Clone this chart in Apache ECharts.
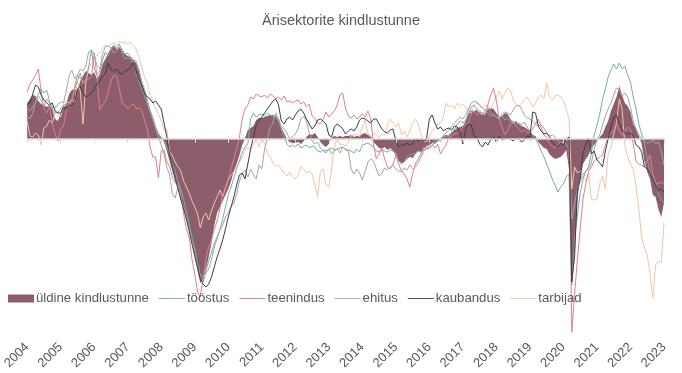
<!DOCTYPE html>
<html>
<head>
<meta charset="utf-8">
<script src="https://cdn.jsdelivr.net/npm/echarts@6/dist/echarts.min.js"></script>
<style>
html,body{margin:0;padding:0;background:#fff;}
#chart{width:682px;height:373px;}
</style>
</head>
<body>
<div id="chart"></div>
<script>
const years = [2004,2005,2006,2007,2008,2009,2010,2011,2012,2013,2014,2015,2016,2017,2018,2019,2020,2021,2022,2023];
const seriesNames = ['üldine kindlustunne','tööstus','teenindus','ehitus','kaubandus','tarbijad'];

const uldine = [
3.6,4.0,4.4,4.3,3.8,3.5,3.4,3.2,3.4,3.0,2.0,1.8,
2.6,3.1,3.5,4.5,4.9,5.0,4.8,5.8,6.3,6.8,6.6,6.4,
6.7,6.0,6.5,7.5,8.0,8.6,9.1,9.3,9.0,9.2,8.8,8.5,
8.3,8.2,7.9,7.6,6.8,5.7,4.8,4.0,3.0,2.2,1.3,0.6,
0.1,-0.3,-1.2,-2.2,-3.2,-4.0,-4.8,-5.8,-6.8,-8.0,-9.0,-10.3,
-11.8,-13.2,-14.4,-14.0,-13.0,-11.8,-10.4,-8.6,-7.4,-6.8,-6.2,-5.6,
-5.0,-4.2,-3.2,-2.5,-1.6,-0.6,0.1,0.9,1.1,1.3,1.9,2.1,
2.1,2.2,2.3,2.4,2.4,2.3,1.8,1.1,0.6,0.0,-0.3,-0.4,
-0.4,-0.3,-0.5,-0.2,0.2,0.5,0.4,0.6,0.2,-0.3,-0.6,-0.8,
-0.5,0.1,0.3,0.2,0.3,0.2,0.3,0.3,0.4,0.2,0.3,0.3,
0.5,0.6,0.4,0.3,-0.3,-0.6,-0.9,-1.0,-0.8,-1.1,-0.9,-1.2,
-1.6,-2.2,-2.4,-2.3,-2.0,-1.8,-1.9,-1.5,-1.2,-1.3,-1.0,-0.7,
-0.6,-0.4,-0.5,-0.2,0.1,0.3,0.4,0.3,0.7,0.9,1.1,1.2,
1.3,1.8,2.5,2.9,2.8,2.9,2.6,2.4,2.6,3.0,3.1,3.0,
2.6,2.2,2.3,2.6,2.5,2.0,1.6,1.8,1.5,1.3,1.2,1.0,
0.8,0.4,0.3,-0.3,-0.6,-0.9,-1.0,-1.5,-1.8,-2.0,-1.9,-1.8,
-1.5,-1.1,-3.0,-14.4,-12.0,-6.0,-3.8,-2.5,-2.0,-1.6,-0.9,-0.6,
-0.2,0.2,0.5,1.2,1.8,2.8,3.5,4.2,5.3,4.4,3.6,3.3,
2.7,1.5,1.0,0.3,-0.5,-2.2,-3.3,-4.0,-5.6,-5.8,-7.0,-7.8,
-6.4
];

const toostus = [
3.0,2.8,3.2,3.6,4.5,5.0,4.6,4.9,3.8,3.0,2.6,2.7,
3.0,3.4,3.5,3.2,3.9,5.0,5.8,6.6,5.5,6.0,7.2,8.9,
7.0,6.4,6.8,7.9,8.7,8.3,9.0,9.4,9.1,9.5,8.7,8.0,
8.1,8.0,7.6,6.5,5.8,5.0,4.3,3.5,2.7,2.0,1.1,0.4,
0.2,-0.2,-0.8,-1.5,-2.5,-3.3,-4.2,-5.0,-6.0,-7.2,-8.5,-9.8,
-11.0,-12.6,-13.8,-14.3,-13.2,-12.2,-11.4,-10.4,-9.8,-9.1,-8.0,-6.8,
-5.6,-4.8,-3.9,-3.0,-2.2,-1.3,-0.8,-0.5,2.0,2.6,2.2,2.4,
2.5,2.3,2.6,2.4,2.2,2.3,2.0,1.0,0.2,-0.5,-0.8,-0.6,
-0.8,-0.5,-0.9,-0.7,-0.6,-0.9,-0.7,-0.8,-1.2,-1.3,-1.1,-1.2,
-1.0,-0.9,-1.1,-1.0,-0.9,-0.8,-1.0,-1.1,-1.2,-1.4,-1.0,-1.3,
-0.6,-0.5,-0.4,-0.6,-0.8,-1.2,-1.3,-1.1,-1.2,-1.3,-1.1,-1.2,
-1.4,-2.2,-2.5,-2.3,-1.8,-1.6,-1.5,-1.4,-1.2,-1.3,-1.1,-1.0,
-0.8,-0.6,-0.4,-0.2,0.0,0.3,0.2,0.4,0.6,1.0,1.5,1.8,
1.6,1.9,2.6,3.2,3.4,3.0,2.8,2.5,2.9,2.6,2.3,2.4,
2.2,2.0,2.3,1.9,2.1,1.7,1.8,1.5,1.6,1.4,1.7,1.2,
0.8,0.4,0.0,-0.5,-1.2,-1.8,-2.5,-3.2,-4.0,-4.6,-5.3,-4.8,
-4.5,-3.8,-3.5,-14.6,-10.0,-7.6,-5.4,-4.0,-3.2,-2.8,-1.4,0.4,
1.4,2.5,4.0,5.0,6.2,6.9,7.5,7.0,7.6,7.0,7.3,6.4,
5.7,4.2,3.0,1.5,0.5,-0.5,-2.0,-3.2,-4.0,-4.3,-5.5,-6.0,
-6.4
];

const teenindus = [
4.7,5.5,5.9,6.4,7.0,4.8,3.0,2.6,3.3,1.5,0.5,-0.2,
1.0,1.3,2.8,3.6,3.8,5.2,6.4,6.1,5.7,5.9,6.0,6.2,
8.6,6.2,2.9,3.4,3.8,4.6,5.8,6.4,6.3,5.0,3.6,3.4,
3.0,3.3,3.5,3.0,3.1,2.9,1.9,1.0,-0.8,-1.8,-1.8,-3.9,
-1.2,-1.1,-2.3,-2.7,-3.8,-4.4,-4.5,-5.5,-7.5,-9.0,-9.8,-12.0,
-13.5,-15.3,-15.8,-14.0,-12.0,-10.8,-10.1,-9.0,-8.2,-7.0,-5.6,-4.8,
-4.0,-3.0,-2.0,-1.0,0.2,2.0,3.0,3.4,4.2,4.0,4.5,4.3,
4.2,4.4,4.1,4.5,4.3,4.0,4.2,3.9,4.3,3.7,3.8,3.6,
3.8,3.9,3.5,3.7,3.2,3.5,2.3,2.1,1.6,1.5,2.0,2.7,
2.2,2.5,2.8,3.4,4.4,4.6,3.0,2.3,2.1,2.4,2.0,2.2,
2.5,2.2,2.8,2.0,-0.5,-2.0,-1.5,-0.9,-2.0,-2.8,-3.0,-2.5,
-1.6,-2.5,-3.2,-3.5,-4.0,-4.8,-3.5,-2.5,-2.0,-1.5,-0.8,-0.9,
-1.0,-0.6,-0.9,-0.5,-1.5,-1.0,-0.6,0.2,0.3,0.5,0.6,0.8,
1.2,1.5,1.6,2.6,2.8,2.4,2.7,2.6,2.4,3.5,4.4,5.1,
3.8,2.0,1.2,0.4,0.8,1.5,1.6,1.3,1.0,0.7,0.9,0.6,
0.7,1.0,1.5,2.0,1.2,0.4,0.2,-0.5,-0.7,-0.9,-0.6,-0.3,
-0.5,-0.2,0.0,-19.3,-15.5,-12.0,-9.0,-6.0,-4.5,-3.2,-2.8,-2.2,
-2.0,-1.8,-1.6,-0.6,0.2,0.6,0.8,1.7,0.8,0.4,0.6,1.2,
1.0,-0.5,-2.2,-2.5,-2.6,-2.8,-2.2,-1.6,-3.5,-4.4,-4.5,-4.3,
-4.5
];

const ehitus = [
2.3,2.0,2.6,3.8,4.3,3.9,3.3,4.0,3.6,3.2,3.1,3.5,
3.7,3.6,4.8,6.3,6.9,6.0,6.4,7.0,6.8,7.3,8.7,8.9,
8.5,7.3,7.0,8.5,9.2,9.3,9.1,8.6,8.8,9.2,9.0,8.5,
8.6,8.2,7.9,7.8,7.0,5.8,5.0,3.8,2.8,2.0,1.0,0.2,
-0.6,-1.5,-2.8,-3.6,-5.5,-5.9,-4.8,-6.0,-6.8,-7.8,-9.0,-10.2,
-11.2,-12.5,-13.6,-13.8,-13.4,-13.0,-12.0,-10.8,-10.0,-9.1,-8.6,-7.8,
-7.4,-6.8,-6.4,-5.5,-4.2,-3.5,-3.1,-3.8,-3.0,-3.6,-4.0,-2.6,
-3.0,-1.0,0.0,1.2,1.6,2.6,2.0,1.2,1.0,0.6,0.0,0.2,
0.5,1.0,2.0,2.3,1.8,0.6,-0.2,-0.5,-0.3,-0.9,-1.2,-1.4,
-1.0,-1.5,-1.2,-1.0,-1.4,-0.8,-1.1,-1.2,-3.0,-3.5,-3.0,-3.4,
-4.1,-3.2,-2.3,-2.0,-2.2,-3.0,-3.7,-3.4,-2.9,-3.1,-2.8,-2.6,
-3.0,-3.2,-3.3,-2.9,-3.1,-2.6,-3.0,-2.8,-2.4,-1.8,-1.2,-0.8,
-0.6,-0.4,-0.2,0.0,-0.3,0.3,0.6,0.9,1.3,1.6,1.9,2.2,
2.0,2.4,3.0,3.6,3.8,3.7,3.3,3.1,2.9,3.1,2.6,2.4,
2.2,2.1,2.5,2.7,2.6,2.4,2.9,3.3,3.4,3.0,2.4,2.1,
2.0,1.8,1.5,1.3,1.4,1.1,0.6,0.3,0.4,0.2,-0.2,-0.4,
-0.3,-0.5,-1.0,-8.0,-6.5,-5.0,-4.2,-3.5,-3.2,-3.0,-2.4,-1.0,
0.0,0.4,1.4,2.3,3.0,3.6,4.4,5.1,4.9,4.3,4.6,4.2,
3.2,1.8,1.0,0.4,0.0,-0.2,-0.4,-0.3,-0.1,-0.5,-0.3,-1.2,
-2.6
];

const kaubandus = [
3.4,3.6,4.5,5.4,5.2,4.4,3.9,3.6,3.4,3.6,2.8,2.6,
2.6,3.2,3.0,3.4,3.3,3.7,5.0,5.3,4.6,4.2,4.4,4.6,
5.0,5.5,5.8,6.3,6.5,7.6,7.0,6.8,7.0,6.6,6.5,6.8,
6.9,7.2,7.6,6.8,6.0,5.4,4.6,4.2,4.0,3.6,3.8,3.4,
3.0,1.6,0.2,-1.5,-2.8,-4.0,-5.0,-6.0,-7.0,-8.0,-9.2,-10.5,
-11.7,-12.8,-14.0,-14.5,-14.8,-14.5,-13.8,-12.8,-11.8,-11.0,-10.1,-9.0,
-7.8,-6.8,-5.8,-4.6,-3.6,-3.4,-4.0,-2.5,-1.0,0.2,1.4,1.8,
2.2,2.6,3.0,3.4,3.8,4.0,3.4,1.8,1.5,2.0,2.2,1.9,
2.4,2.8,3.0,2.6,2.0,1.5,1.0,1.3,1.9,2.0,1.8,1.5,
0.4,0.2,1.2,1.5,1.3,1.0,0.5,0.8,1.0,0.8,1.2,1.9,
2.1,2.0,1.8,1.6,2.0,2.0,1.5,1.0,0.7,0.6,0.9,1.0,
-0.2,-0.8,-0.6,-0.6,-0.4,-0.6,-0.5,0.0,-0.2,0.0,-0.2,0.1,
2.0,2.4,1.6,1.0,1.2,0.8,1.0,1.1,0.9,1.3,1.2,0.6,
-0.5,1.0,1.5,1.4,0.3,0.2,-0.5,-0.8,-0.3,-0.6,0.0,0.2,
-0.3,0.3,-0.1,0.0,0.1,0.0,-0.2,0.1,0.0,-0.3,-0.1,0.3,
0.2,2.7,2.6,1.3,0.8,0.5,0.6,0.2,-0.3,-0.6,-0.8,-0.4,
-0.6,0.0,0.2,-14.3,-11.6,-5.2,-4.0,-1.4,-0.6,0.1,-1.5,-1.2,
-2.1,-2.4,-2.8,-1.2,0.0,1.2,2.2,2.4,1.5,1.0,0.6,0.5,
0.6,0.3,-0.6,-0.8,-1.3,-2.8,-3.0,-3.4,-4.0,-4.6,-5.2,-5.0,
-5.3
];

const tarbijad = [
1.8,0.3,0.2,0.6,0.4,-0.6,1.1,1.3,1.9,1.6,2.6,2.3,
2.2,3.5,3.8,3.6,4.0,3.6,5.8,4.8,1.5,5.6,7.0,7.6,
8.0,8.4,8.6,9.0,9.4,9.2,9.5,9.6,9.4,9.8,9.6,9.7,
9.5,9.7,9.4,9.0,8.2,7.2,6.2,5.6,4.4,3.8,3.0,2.5,
1.8,0.9,1.0,-1.2,-1.7,-2.3,-2.8,-3.2,-4.2,-4.8,-5.4,-6.2,
-6.8,-7.5,-8.9,-7.8,-7.4,-8.1,-7.2,-6.4,-5.8,-5.1,-5.8,-4.9,
-4.1,-3.6,-3.3,-2.8,-2.3,-1.8,-1.2,-0.8,-1.0,-0.6,0.0,-0.8,
0.0,-0.4,-1.4,-1.8,-2.4,-2.7,-2.6,-3.0,-3.4,-3.7,-3.3,-3.8,
-4.0,-3.6,-2.8,-3.0,-3.4,-3.2,-3.5,-4.5,-5.8,-3.2,-3.0,-4.6,
-4.8,-3.0,-0.8,0.1,-0.6,-0.5,-0.7,-0.3,0.3,0.4,0.5,0.2,
1.2,1.9,0.5,0.2,0.6,0.4,0.2,0.5,0.4,1.4,2.0,1.6,
1.2,1.6,0.4,0.8,0.2,0.8,1.6,2.0,1.5,0.4,-0.2,-0.3,
0.3,0.8,1.0,1.5,1.6,2.2,3.6,3.2,3.4,3.0,3.6,3.3,
3.5,3.2,2.8,2.6,3.3,3.6,3.5,3.1,3.4,3.3,3.0,3.6,
4.2,4.8,4.0,4.6,5.1,4.9,3.9,3.5,3.2,3.5,4.0,4.2,
3.8,3.2,3.6,4.2,4.4,4.0,5.6,4.2,3.9,4.3,4.4,4.2,
3.8,3.0,2.0,-5.0,-2.8,-3.4,-3.2,-3.8,-4.2,-3.5,-6.0,-6.1,
-6.0,-4.5,-3.7,-5.0,-1.5,-0.8,0.5,1.6,4.0,3.0,-0.7,-1.8,
-2.5,-3.0,-4.8,-7.0,-9.8,-10.8,-11.6,-13.5,-15.9,-12.6,-12.2,-12.4,
-8.4
];

const colors = ['#8c5e6c','#79aea2','#e37f8a','#a5a5a5','#3a3e4c','#f5c5a3'];

const n = uldine.length;
const categories = [];
years.forEach(y => { for (let m = 1; m <= 12; m++) categories.push(y + '-' + (m < 10 ? '0' + m : m)); });
const cats = categories.slice(0, n);
const isYearStart = (i) => i % 12 === 0;

const font = "'Liberation Sans', Arial, sans-serif";
const lineData = [toostus, teenindus, ehitus, kaubandus, tarbijad];
const lineIcon = 'path://M0,0L40,0L40,1.4L0,1.4Z';

const series = [{
  name: seriesNames[0], type: 'line', data: uldine, symbol: 'none',
  lineStyle: { width: 0 }, itemStyle: { color: colors[0] },
  areaStyle: { color: colors[0], opacity: 1 }, z: 1, silent: true
}].concat(lineData.map((d, k) => ({
  name: seriesNames[k + 1], type: 'line', data: d, symbol: 'none',
  lineStyle: { width: 1, color: colors[k + 1] }, itemStyle: { color: colors[k + 1] },
  z: 2 + (k === 4 ? 0 : 1), silent: true
})));

const chart = echarts.init(document.getElementById('chart'), null, { renderer: 'canvas' });
chart.setOption({
  animation: false,
  backgroundColor: '#ffffff',
  title: {
    text: 'Ärisektorite kindlustunne', left: 'center', top: 8,
    textStyle: { fontSize: 14.5, fontWeight: 'normal', color: '#595959', fontFamily: font }
  },
  legend: {
    left: 8, top: 292, padding: 0, itemGap: 10, itemWidth: 26, itemHeight: 8,
    textStyle: { fontSize: 13.2, color: '#595959', fontFamily: font, padding: [0, 0, 0, -3] },
    data: [{ name: seriesNames[0], icon: 'rect' }].concat(seriesNames.slice(1).map(s => ({ name: s, icon: lineIcon })))
  },
  grid: { left: 27, right: 18, top: 29, bottom: 34, containLabel: false },
  xAxis: [{
    type: 'category', data: cats, boundaryGap: false, position: 'bottom',
    axisLine: { show: false, onZero: false }, axisTick: { show: false },
    axisLabel: {
      rotate: 45, interval: (i) => isYearStart(i), formatter: (v) => v.slice(0, 4),
      fontSize: 13, color: '#595959', fontFamily: font, margin: 6
    },
    splitLine: { show: false }
  }, {
    type: 'category', data: cats, boundaryGap: false, position: 'bottom', z: 5,
    axisLine: { show: true, onZero: true, onZeroAxisIndex: 0, lineStyle: { color: '#d9d9d9', width: 1.5 } },
    axisTick: { show: true, interval: (i) => isYearStart(i), length: 4, lineStyle: { color: '#d9d9d9' } },
    axisLabel: { show: false }, splitLine: { show: false }
  }],
  yAxis: {
    type: 'value', min: -20, max: 11, show: false, splitLine: { show: false }
  },
  series: series
});
</script>
</body>
</html>
